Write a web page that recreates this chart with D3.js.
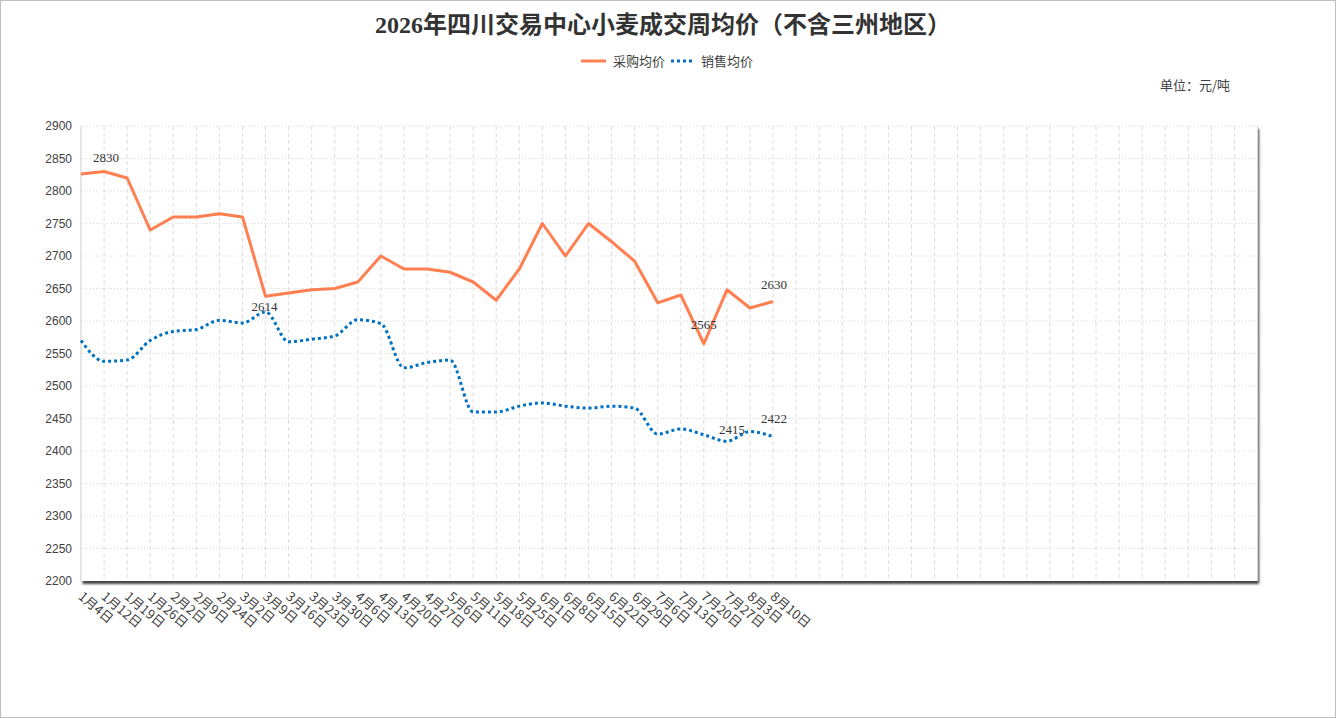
<!DOCTYPE html>
<html>
<head>
<meta charset="utf-8">
<script src="https://cdn.jsdelivr.net/npm/d3@7"></script>
<style>
  body { margin: 0; background: #fff; }
  svg text { fill: #404040; }
</style>
</head>
<body>
<div id="chart"></div>
<script>
// chart values
var weekLabels = ["1月4日", "1月12日", "1月19日", "1月26日", "2月2日", "2月9日", "2月24日", "3月2日",
    "3月9日", "3月16日", "3月23日", "3月30日", "4月6日", "4月13日", "4月20日", "4月27日",
    "5月6日", "5月11日", "5月18日", "5月25日", "6月1日", "6月8日", "6月15日", "6月22日",
    "6月29日", "7月6日", "7月13日", "7月20日", "7月27日", "8月3日", "8月10日"];
var purchasePrice = [2826, 2830, 2820, 2740, 2760, 2760, 2765, 2760, 2638, 2643, 2648, 2650, 2660, 2700, 2680, 2680,
    2675, 2660, 2632, 2680, 2750, 2700, 2750, 2722, 2692, 2628, 2640, 2565, 2648, 2620, 2630];
var salesPrice = [2570, 2538, 2540, 2570, 2584, 2587, 2601, 2597, 2614, 2568, 2572, 2577, 2602, 2596, 2528, 2536,
    2540, 2460, 2460, 2469, 2474, 2469, 2466, 2469, 2466, 2426, 2434, 2425, 2415, 2430, 2422];
var yTicks = [2200, 2250, 2300, 2350, 2400, 2450, 2500, 2550, 2600, 2650, 2700, 2750, 2800, 2850, 2900];
var seriesNames = ["采购均价", "销售均价"];
var axisSlots = 52; // the category axis has room for a full year of weeks

var width = 1336, height = 718;
var plot = {left: 81, top: 126, right: 1257.5, bottom: 581};
var orange = "#FF7F50", blue = "#0070C0";

var svg = d3.select("#chart").append("svg")
    .attr("width", width)
    .attr("height", height);

// outer border
svg.append("rect")
    .attr("x", 0.5).attr("y", 0.5)
    .attr("width", width - 1).attr("height", height - 1)
    .attr("fill", "#fff")
    .attr("stroke", "#bfbfbf");

// shadow under the plot area
var defs = svg.append("defs");
var f = defs.append("filter").attr("id", "shadow")
    .attr("x", "-2%").attr("y", "-2%").attr("width", "104%").attr("height", "106%");
f.append("feDropShadow")
    .attr("dx", 1.5).attr("dy", 3)
    .attr("stdDeviation", 1)
    .attr("flood-color", "#333")
    .attr("flood-opacity", 0.9);

svg.append("rect")
    .attr("x", plot.left).attr("y", plot.top)
    .attr("width", plot.right - plot.left).attr("height", plot.bottom - plot.top)
    .attr("fill", "#fff")
    .attr("filter", "url(#shadow)");

var slots = d3.range(axisSlots);
var x = d3.scalePoint().domain(slots).range([plot.left, plot.right]);
var y = d3.scaleLinear().domain([2200, 2900]).range([plot.bottom, plot.top]);

// gridlines
svg.append("g").selectAll("line")
    .data(yTicks.slice(1))
    .join("line")
    .attr("x1", plot.left).attr("x2", plot.right)
    .attr("y1", d => y(d)).attr("y2", d => y(d))
    .attr("stroke", "#d9d9d9")
    .attr("stroke-dasharray", "1,2");

svg.append("g").selectAll("line")
    .data(slots.slice(1))
    .join("line")
    .attr("x1", d => x(d)).attr("x2", d => x(d))
    .attr("y1", plot.top).attr("y2", plot.bottom)
    .attr("stroke", "#dcdcdc")
    .attr("stroke-dasharray", "4,3");

// left edge of plot
svg.append("line")
    .attr("x1", plot.left).attr("x2", plot.left)
    .attr("y1", plot.top).attr("y2", plot.bottom)
    .attr("stroke", "#d0d0d0");

// y axis labels
var yAxis = d3.axisLeft(y).tickValues(yTicks).tickSize(0).tickPadding(9).tickFormat(d3.format("d"));
var gy = svg.append("g")
    .attr("transform", `translate(${plot.left},0)`)
    .call(yAxis);
gy.select(".domain").remove();
gy.selectAll("text")
    .style("font", "12px 'Liberation Sans', Arial, sans-serif")
    .style("fill", "#404040");

// x axis labels (rotated)
var xAxis = d3.axisBottom(x).tickSize(0).tickFormat(d => weekLabels[d] || "");
var gx = svg.append("g")
    .attr("transform", `translate(0,${plot.bottom})`)
    .call(xAxis);
gx.select(".domain").remove();
gx.selectAll("text")
    .style("font", "13px 'Noto Sans CJK SC', sans-serif")
    .style("fill", "#404040")
    .attr("text-anchor", "start")
    .attr("y", 0).attr("dy", 0)
    .attr("transform", "translate(-4,17) rotate(40)");

// series
var purchaseLine = d3.line()
    .x((d, i) => x(i))
    .y(d => y(d));

svg.append("path")
    .datum(purchasePrice)
    .attr("d", purchaseLine)
    .attr("fill", "none")
    .attr("stroke", orange)
    .attr("stroke-width", 3)
    .attr("stroke-linejoin", "round");

var salesLine = d3.line()
    .x((d, i) => x(i))
    .y(d => y(d))
    .curve(d3.curveMonotoneX);

svg.append("path")
    .datum(salesPrice)
    .attr("d", salesLine)
    .attr("fill", "none")
    .attr("stroke", blue)
    .attr("stroke-width", 3)
    .attr("stroke-dasharray", "3,3");

// data labels: max, min and last value of each series
function labelPoints(values, lifts, shifts) {
    var idx = [d3.maxIndex(values), d3.minIndex(values), values.length - 1];
    return idx.map((i, k) => ({i: i, v: values[i], lift: lifts[k], shift: shifts[k]}));
}

var labels = labelPoints(purchasePrice, [10, 15, 13], [2, 0, 1])
    .concat(labelPoints(salesPrice, [1, 7, 14], [-1, 5, 1]));
svg.append("g").selectAll("text")
    .data(labels)
    .join("text")
    .attr("x", d => x(d.i) + d.shift)
    .attr("y", d => y(d.v) - d.lift)
    .attr("text-anchor", "middle")
    .style("font", "13px 'Liberation Serif', serif")
    .style("fill", "#333")
    .text(d => d.v);

// title
svg.append("text")
    .attr("x", 663).attr("y", 33)
    .attr("text-anchor", "middle")
    .style("font", "bold 24px 'Liberation Serif', 'Noto Sans CJK SC', serif")
    .style("fill", "#333")
    .text("2026年四川交易中心小麦成交周均价（不含三州地区）");

// legend
var legend = svg.append("g").attr("transform", "translate(581,61)");
legend.append("line")
    .attr("x1", 0).attr("x2", 25)
    .attr("stroke", orange).attr("stroke-width", 3);
legend.append("text")
    .attr("x", 32).attr("y", 4.5)
    .style("font", "13px 'Noto Sans CJK SC', sans-serif")
    .text(seriesNames[0]);
legend.append("line")
    .attr("x1", 90).attr("x2", 114)
    .attr("stroke", blue).attr("stroke-width", 3)
    .attr("stroke-dasharray", "3,3");
legend.append("text")
    .attr("x", 120).attr("y", 4.5)
    .style("font", "13px 'Noto Sans CJK SC', sans-serif")
    .text(seriesNames[1]);

// unit
svg.append("text")
    .attr("x", 1160).attr("y", 90)
    .style("font", "13px 'Noto Sans CJK SC', sans-serif")
    .text("单位：元/吨");
</script>
</body>
</html>
